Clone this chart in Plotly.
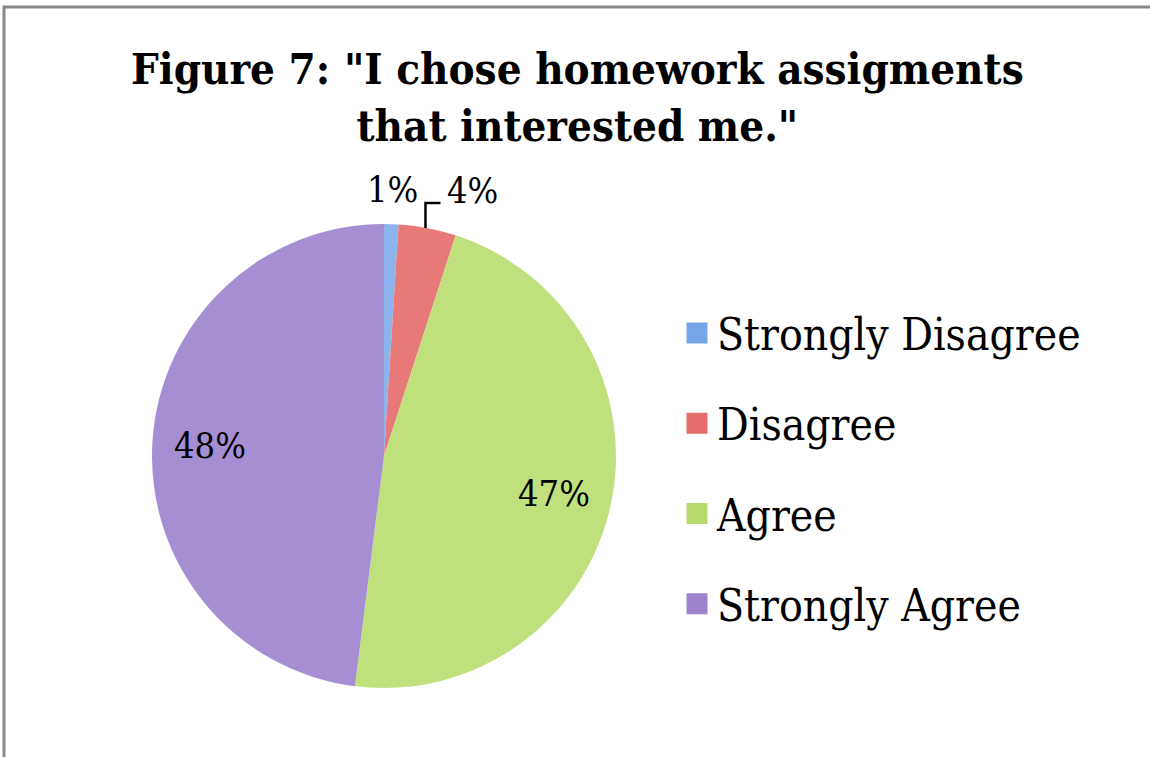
import math
import plotly.graph_objects as go

# Survey responses for Figure 7
categories = ["Strongly Disagree", "Disagree", "Agree", "Strongly Agree"]
percentages = [1, 4, 47, 48]
colors = ["#8db3ee", "#e77a78", "#c0e07d", "#a58fd2"]
# legend swatch shades
swatch_colors = ["#76a5e8", "#e56e6c", "#b7da6c", "#9d83cc"]

TITLE = 'Figure 7: "I chose homework assigments<br>that interested me."'
W, H = 1150, 757

# pie geometry in pixels
CX, CY, R = 384, 456, 232

fig = go.Figure()

fig.add_trace(go.Pie(
    labels=categories,
    values=percentages,
    sort=False,
    direction="clockwise",
    rotation=0,
    marker=dict(colors=colors, line=dict(width=0)),
    textinfo="none",
    domain=dict(x=[(CX - R) / W, (CX + R) / W], y=[1 - (CY + R) / H, 1 - (CY - R) / H]),
    showlegend=False,
    hoverinfo="label+percent",
))

# Legend entries, one group per category so the rows can be spaced apart
for name, col in zip(categories, swatch_colors):
    fig.add_trace(go.Scatter(
        x=[None], y=[None], mode="markers", name=name,
        legendgroup=name,
        marker=dict(symbol="square", size=16, color=col,
                    line=dict(width=5, color=col)),
    ))


def px_to_paper(x, y):
    return x / W, 1 - y / H


# data labels placed along each slice's mid-angle
label_font = dict(family="DejaVu Serif Condensed, DejaVu Serif", size=36, color="#000000")
annotations = []
shapes = []
total = sum(percentages)
cum = 0
for i, v in enumerate(percentages):
    mid = (cum + v / 2) / total * 2 * math.pi
    cum += v
    s, c = math.sin(mid), math.cos(mid)
    if v >= 10:
        k = 0.75
        lx, ly = CX + k * R * s, CY - k * R * c
    elif i == 0:
        lx, ly = CX + 1.15 * R * s, CY - 1.15 * R * c
    else:
        # label pushed aside with an elbow leader line from the slice edge
        ex, ey = CX + R * s, CY - R * c
        p0 = px_to_paper(ex - 2, ey)
        p1 = px_to_paper(ex - 2, ey - 25)
        p2 = px_to_paper(ex + 13, ey - 25)
        shapes.append(dict(type="path", xref="paper", yref="paper",
                           path=f"M {p0[0]},{p0[1]} L {p1[0]},{p1[1]} L {p2[0]},{p2[1]}",
                           line=dict(color="#000000", width=2.5)))
        lx, ly = ex + 45, ey - 38
    px, py = px_to_paper(lx, ly)
    annotations.append(dict(x=px, y=py, xref="paper", yref="paper",
                            xanchor="center", yanchor="middle",
                            text=f"{v}%", showarrow=False, font=label_font))

annotations.append(dict(
    text=TITLE, x=0.502, y=1 - 41 / H, xref="paper", yref="paper",
    xanchor="center", yanchor="top", showarrow=False,
    font=dict(family="DejaVu Serif Condensed, DejaVu Serif", size=43.5,
              color="#000000", weight="bold"),
))

shapes.append(dict(
    type="rect", xref="paper", yref="paper",
    x0=4 / W, x1=1.01, y0=-0.01, y1=1 - 7 / H,
    line=dict(color="#8a8a8a", width=3),
))

fig.update_layout(
    width=W, height=H,
    margin=dict(l=0, r=0, t=0, b=0),
    paper_bgcolor="white",
    plot_bgcolor="white",
    xaxis=dict(visible=False),
    yaxis=dict(visible=False),
    legend=dict(
        x=677 / W, xanchor="left",
        y=1 - 298 / H, yanchor="top",
        font=dict(family="DejaVu Serif Condensed, DejaVu Serif", size=44, color="#000000"),
        tracegroupgap=30,
        bgcolor="rgba(0,0,0,0)",
        itemwidth=30,
    ),
    annotations=annotations,
    shapes=shapes,
)

fig.write_html("out.html")
